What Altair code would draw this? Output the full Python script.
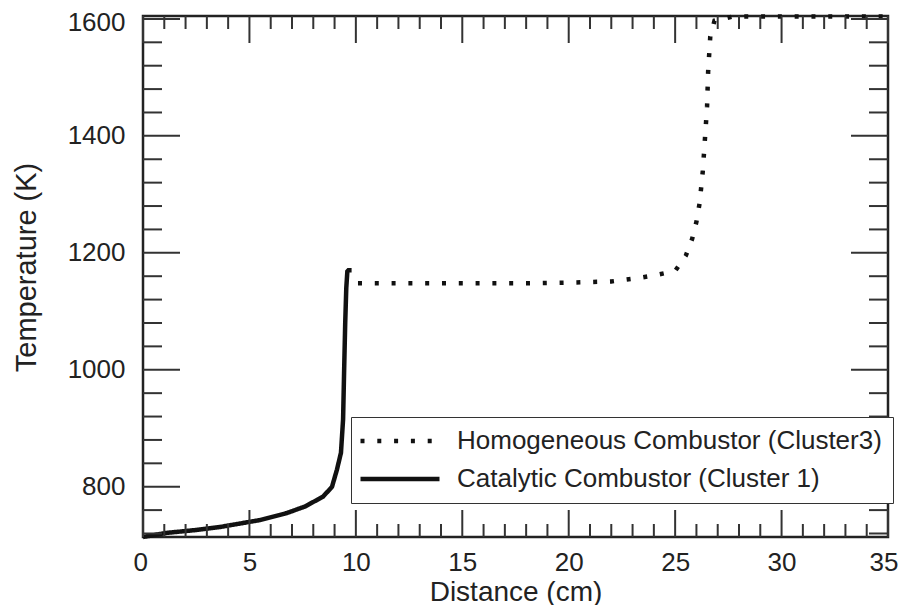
import altair as alt
import pandas as pd

SERIES = ["Homogeneous Combustor (Cluster3)", "Catalytic Combustor (Cluster 1)"]

# Catalytic combustor (solid line)
cat_x = [0, 1.1, 2.5, 3.6, 5.5, 6.76, 7.6, 8.46, 8.88, 9.11, 9.3, 9.4, 9.45, 9.5, 9.55, 9.6, 9.65, 9.8]
cat_t = [714, 721, 726, 731, 743, 755, 766, 783, 800, 829, 858, 915, 1000, 1080, 1140, 1168, 1170, 1170]

# Homogeneous combustor (dotted line)
hom_x = [10.1, 12, 14, 16, 18, 20, 22, 23.3, 24.1, 25.0, 25.5, 25.8, 26.0, 26.15, 26.3, 26.4,
         26.5, 26.55, 26.65, 26.85, 27.7, 30, 32.5, 35]
hom_t = [1148, 1148, 1148, 1148, 1148, 1149, 1151, 1157, 1162, 1169, 1195, 1224, 1253, 1285, 1340, 1395,
         1450, 1510, 1570, 1597, 1604, 1604, 1604, 1604]

x_major = [0, 5, 10, 15, 20, 25, 30, 35]
x_minor = [1, 2, 3, 4, 6, 7, 8, 9, 11, 12, 13, 14, 16, 17, 18, 19, 21, 22, 23, 24,
           26, 27, 28, 29, 31, 32, 33, 34]
y_major = [800, 1000, 1200, 1400, 1600]
y_minor = [720, 760, 840, 880, 920, 960, 1040, 1080, 1120, 1160, 1240, 1280, 1320, 1360,
           1440, 1480, 1520, 1560]

W, H = 745, 521
FONT = "Liberation Sans"
TXT = "#222222"
TICK = "#333333"

rows = []
for i, (x, t) in enumerate(zip(hom_x, hom_t)):
    rows.append({"series": SERIES[0], "x": x, "T": t, "order": i})
for i, (x, t) in enumerate(zip(cat_x, cat_t)):
    rows.append({"series": SERIES[1], "x": x, "T": t, "order": i})
df = pd.DataFrame(rows)

xs = alt.Scale(domain=[0, 35], nice=False, zero=False)
ys = alt.Scale(domain=[714, 1605], nice=False, zero=False)

xaxis = alt.Axis(
    values=x_major, ticks=False, domain=False, grid=False, labelFontSize=26,
    labelPadding=12, labelColor=TXT, labelFont=FONT, labelFlush=True, labelFlushOffset=10,
    format="d",
    title="Distance (cm)", titleFontSize=28, titleFontWeight="normal", titleFont=FONT,
    titleColor=TXT, titleX=W / 2, titleY=55, titleBaseline="middle")
yaxis = alt.Axis(
    values=y_major, ticks=False, domain=False, grid=False, labelFontSize=26,
    labelPadding=18, labelColor=TXT, labelFont=FONT, labelFlush=False, format="d",
    labelOffset={"condition": {"test": "datum.value >= 1600", "value": 4}, "value": 0},
    title="Temperature (K)", titleFontSize=29, titleFontWeight="normal", titleFont=FONT,
    titleColor=TXT, titleX=-117, titleY=251, titleBaseline="middle", titleAngle=270)

leg = alt.Legend(title=None, orient="none", legendX=208, legendY=401)

lines = alt.Chart(df).mark_line(strokeWidth=4.5, strokeCap="butt", color="#111111").encode(
    x=alt.X("x:Q", scale=xs, axis=xaxis),
    y=alt.Y("T:Q", scale=ys, axis=yaxis),
    color=alt.Color("series:N", scale=alt.Scale(domain=SERIES, range=["#111111", "#111111"]), legend=leg),
    strokeDash=alt.StrokeDash("series:N", scale=alt.Scale(domain=SERIES, range=[[4, 12.8], [1, 0]]), legend=leg),
    order="order:Q",
)


def xticks(vals, y0, y1):
    return alt.Chart(pd.DataFrame({"v": vals})).mark_rule(color=TICK, strokeWidth=2).encode(
        x=alt.X("v:Q", scale=xs, axis=xaxis), y=alt.value(y0), y2=alt.value(y1))


def yticks(vals, x0, x1):
    return alt.Chart(pd.DataFrame({"v": vals})).mark_rule(color=TICK, strokeWidth=2).encode(
        y=alt.Y("v:Q", scale=ys, axis=yaxis), x=alt.value(x0), x2=alt.value(x1))


chart = alt.layer(
    lines,
    xticks(x_major, H, H - 27), xticks(x_minor, H, H - 13),
    xticks(x_major, 0, 27), xticks(x_minor, 0, 13),
    yticks(y_major, 0, 37), yticks(y_minor, 0, 19),
    yticks(y_major, W, W - 37), yticks(y_minor, W, W - 19),
).properties(
    width=W, height=H,
    padding={"left": 135, "top": 8, "right": 10, "bottom": 68},
    autosize=alt.AutoSizeParams(type="none"),
).configure_view(
    stroke="#222222", strokeWidth=2.5
).configure_legend(
    labelFont=FONT, labelFontSize=26, labelColor=TXT, labelOffset=44,
    symbolType="M-7.9,0H7.9", symbolSize=100, symbolStrokeWidth=4.5, symbolOffset=25,
    padding=11, rowPadding=12, strokeColor="#333333", fillColor="white",
    labelLimit=600,
)

chart.save("out.html", embed_options={"renderer": "svg", "actions": False})
